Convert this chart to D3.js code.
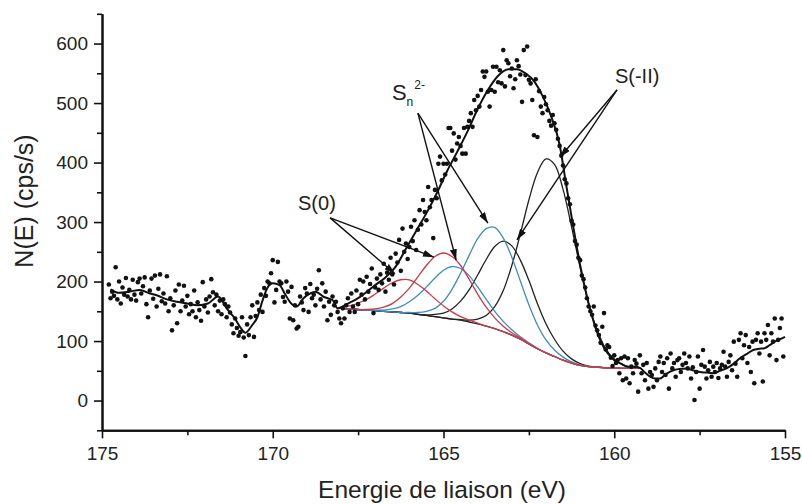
<!DOCTYPE html>
<html lang="fr">
<head>
<meta charset="utf-8">
<title>XPS S 2p</title>
<script src="https://cdn.jsdelivr.net/npm/d3@7"></script>
<style>
  html, body { margin: 0; padding: 0; background: #fff; }
  svg { display: block; font-family: "Liberation Sans", Arial, sans-serif; }
</style>
</head>
<body>
<svg id="chart" width="802" height="504"></svg>
<script>
// mesures : un point tous les 0.05 eV depuis 174.8 eV (une ligne = 1 eV)
var eStart = 174.8, eStep = 0.05;
var counts = [
  195,172,183,176,224,170,200,163,190,178,206,175,186,170,203,178,168,199,205,180,
  192,207,162,140,185,205,171,210,158,188,212,167,180,163,209,150,172,118,160,185,
  130,195,150,168,193,158,176,145,162,150,185,140,165,152,134,199,158,170,148,175,
  204,182,160,178,150,168,145,170,162,140,158,148,128,113,138,122,109,115,140,106,
  75,128,110,140,160,107,142,165,152,178,149,189,176,200,197,214,236,165,186,233,
  200,197,174,166,200,183,138,191,135,160,121,124,175,165,152,189,180,149,196,172,
  178,160,188,219,170,197,158,183,135,166,144,175,160,166,149,138,130,155,138,160,
  172,149,180,158,149,185,162,203,178,200,170,208,183,196,222,147,190,205,186,212,
  197,230,183,215,203,240,212,195,247,232,270,218,289,250,264,238,258,292,268,303,
  253,287,320,296,337,317,303,359,325,337,273,354,340,398,410,370,398,380,398,458,
  458,420,449,405,432,443,428,415,458,415,460,470,483,460,505,488,512,494,522,553,
  544,553,519,494,522,561,519,561,535,555,533,589,528,572,567,545,558,525,540,572,
  562,548,502,589,547,595,539,533,505,446,540,443,520,494,483,510,498,488,470,462,
  480,466,455,440,428,412,395,372,365,340,330,302,296,268,262,240,236,210,204,190,
  172,158,150,144,158,126,118,110,97,124,147,86,93,90,72,58,76,63,68,46,
  71,34,74,37,71,29,57,46,68,62,15,76,46,60,34,63,20,48,43,23,
  54,34,65,74,48,63,43,71,20,79,54,63,40,68,71,48,60,79,63,54,
  74,37,56,1,48,74,20,60,85,57,37,51,65,40,57,48,63,38,54,60,
  82,57,40,65,76,51,99,62,40,102,113,71,93,110,63,90,48,99,29,102,
  113,79,99,32,113,102,127,76,113,99,138,68,102,122,138,74
];

// courbe lissee / enveloppe
var fitE = [174.75,174.5,174.2,173.9,173.6,173.4,173.1,172.8,172.5,172.2,171.9,171.6,171.35,171.1,170.95,170.8,
  170.6,170.45,170.3,170.15,170.0,169.8,169.65,169.5,169.3,169.1,168.9,168.75,168.5,168.25,168.1,167.8,167.5,
  167.2,167.0,166.7,166.4,166.1,165.8,165.5,165.2,164.9,164.6,164.3,164.0,163.7,163.4,163.1,162.85,162.6,
  162.35,162.1,161.85,161.6,161.4,161.2,161.0,160.8,160.6,160.4,160.2,160.0,159.8,159.6,159.4,159.25,159.1,
  158.95,158.8,158.66,158.5,158.27,158.1,157.88,157.7,157.49,157.3,157.1,156.9,156.71,156.5,156.32,156.1,
  155.93,155.75,155.6,155.45,155.3,155.15,155.0];
var fitN = [187,181,183,186,180,177,170,166,163,160,163,175,155,137,123,114,
  127,140,168,190,197,194,180,166,158,172,180,183,174,169,155,163,172,
  185,194,207,225,255,285,315,348,385,418,452,490,522,546,557,557,550,
  537,512,478,430,360,292,228,175,132,100,80,68,62,57,57,55,47,
  40,37,37,44,51,53,54,51,48,47,46,50,54,62,71,79,
  85,87,88,93,99,103,107];

// composantes (fond + pics)
var compE = [168,167.75,167.5,167.25,167,166.75,166.5,166.25,166,165.75,165.5,165.25,165,164.75,164.5,164.25,
  164,163.75,163.5,163.25,163,162.75,162.5,162.25,162,161.75,161.5,161.25,161,160.75,160.5,160.25,160,159.75,159.5,159.25];
var background = [155,154,153,152,151,150,149,148,147,145,143,141,139,137,135,132,129,125,121,116,110,103,95,87,80,74,68,63,59,57,56,55,55,54,54,54];
var s0a = [158,159,164,170,179,189,198,203,203,195,184,171,159,149,141,135,130,125,121,116,110,103,95,87,80,74,68,63,59,57,56,55,55,54,54,54];
var s0b = [155,154,153,153,154,157,163,174,189,208,227,242,248,242,227,204,179,157,139,125,114,105,96,87,80,74,68,63,59,57,56,55,55,54,54,54];
var sna = [155,154,153,152,152,152,154,158,166,177,191,206,219,225,222,210,191,170,150,133,119,107,97,88,80,74,68,63,59,57,56,55,55,54,54,54];
var snb = [155,154,153,152,151,150,149,148,148,148,150,155,167,187,214,244,272,289,291,273,241,201,161,127,102,85,73,65,60,57,56,55,55,54,54,54];
var s2a = [155,154,153,152,151,150,149,148,147,145,144,145,147,154,167,186,211,237,259,268,260,236,202,163,129,103,83,70,62,58,56,55,55,54,54,54];
var s2b = [155,154,153,152,151,150,149,148,147,145,143,141,139,137,136,135,137,143,158,185,227,280,337,383,406,397,355,292,224,163,118,87,70,60,56,55];

var xMajor = [175,170,165,160,155];
var xMinor = [172.5,167.5,162.5,157.5];
var yMajor = [0,100,200,300,400,500,600];
var yMinor = [-50,50,150,250,350,450,550,650];

var annotations = [
  {label: "S(0)",  at: [169.26, 320], from: [168.32, 307], to: [[166.42, 213], [165.28, 241]]},
  {label: "Sn",    at: [166.51, 505], from: [165.75, 483], to: [[164.63, 236], [163.70, 298]]},
  {label: "S(-II)",at: [159.98, 534], from: [159.92, 522], to: [[162.85, 270], [161.59, 409]]}
];

var svg = d3.select("#chart");

var x = d3.scaleLinear().domain([175, 155]).range([102, 785]);
var y = d3.scaleLinear().domain([-50, 650]).range([430.3, 13.8]);

// axes (graduations secondaires dans leurs propres groupes)
svg.append("g").attr("transform", "translate(0," + y(-50) + ")")
  .call(d3.axisBottom(x).tickValues(xMinor).tickSize(5).tickSizeOuter(0).tickFormat(""));
svg.append("g").attr("transform", "translate(0," + y(-50) + ")")
  .call(d3.axisBottom(x).tickValues(xMajor).tickSize(8).tickSizeOuter(0).tickPadding(8));
svg.append("g").attr("transform", "translate(" + x(175) + ",0)")
  .call(d3.axisLeft(y).tickValues(yMinor).tickSize(5).tickSizeOuter(0).tickFormat(""));
svg.append("g").attr("transform", "translate(" + x(175) + ",0)")
  .call(d3.axisLeft(y).tickValues(yMajor).tickSize(8).tickSizeOuter(0).tickPadding(6));
svg.selectAll(".domain").attr("stroke", "#111").attr("stroke-width", 2);
svg.selectAll(".tick line").attr("stroke", "#111").attr("stroke-width", 1.6);
svg.selectAll(".tick text")
  .style("font-size", "19px").attr("fill", "#222")
  .style("font-family", "'Liberation Sans', Arial, sans-serif");

svg.append("text")
  .attr("x", 442).attr("y", 498)
  .attr("text-anchor", "middle")
  .attr("font-size", 24.5).attr("fill", "#222")
  .text("Energie de liaison (eV)");
svg.append("text")
  .attr("transform", "translate(33," + 201 + ") rotate(-90)")
  .attr("text-anchor", "middle")
  .attr("font-size", 25).attr("fill", "#222")
  .text("N(E) (cps/s)");

// composantes
var compLine = function (vals) {
  return d3.line()
    .x(function (d, i) { return x(compE[i]); })
    .y(function (d) { return y(d); })
    .curve(d3.curveCatmullRom)(vals);
};
var comps = [
  {v: background, c: "#222"},
  {v: s2a, c: "#222"}, {v: s2b, c: "#222"},
  {v: sna, c: "#3d8cc2"}, {v: snb, c: "#3d8cc2"},
  {v: s0a, c: "#cc3a4a"}, {v: s0b, c: "#cc3a4a"}
];
svg.append("g").selectAll("path").data(comps).enter().append("path")
  .attr("d", function (d) { return compLine(d.v); })
  .attr("fill", "none")
  .attr("stroke", function (d) { return d.c; })
  .attr("stroke-width", 1.3);

// enveloppe
var fitPts = fitE.map(function (e, i) { return [e, fitN[i]]; });
svg.append("path")
  .attr("d", d3.line()
    .x(function (d) { return x(d[0]); })
    .y(function (d) { return y(d[1]); })
    .curve(d3.curveMonotoneX)(fitPts))
  .attr("fill", "none").attr("stroke", "#111").attr("stroke-width", 2);

// points de mesure
svg.append("g").selectAll("circle").data(counts).enter().append("circle")
  .attr("cx", function (d, i) { return x(eStart - i * eStep); })
  .attr("cy", function (d) { return y(d); })
  .attr("r", 2.3)
  .attr("fill", "#111");

// fleches et etiquettes
svg.append("defs").append("marker")
  .attr("id", "head")
  .attr("markerUnits", "userSpaceOnUse")
  .attr("markerWidth", 11).attr("markerHeight", 7)
  .attr("refX", 11).attr("refY", 3.5)
  .attr("orient", "auto")
  .append("path").attr("d", "M0,0 L11,3.5 L0,7 Z").attr("fill", "#111");

annotations.forEach(function (a) {
  a.to.forEach(function (t) {
    svg.append("line")
      .attr("x1", x(a.from[0])).attr("y1", y(a.from[1]))
      .attr("x2", x(t[0])).attr("y2", y(t[1]))
      .attr("stroke", "#111").attr("stroke-width", 1.4)
      .attr("marker-end", "url(#head)");
  });
  var t = svg.append("text")
    .attr("x", x(a.at[0])).attr("y", y(a.at[1]))
    .attr("font-size", 20).attr("fill", "#222");
  if (a.label === "Sn") {
    t.append("tspan").attr("font-size", 22).text("S");
    t.append("tspan").attr("font-size", 12).attr("dy", 6).text("n");
    t.append("tspan").attr("font-size", 12).attr("dx", 1).attr("dy", -17).text("2-");
  } else {
    t.text(a.label);
  }
});
</script>
</body>
</html>
